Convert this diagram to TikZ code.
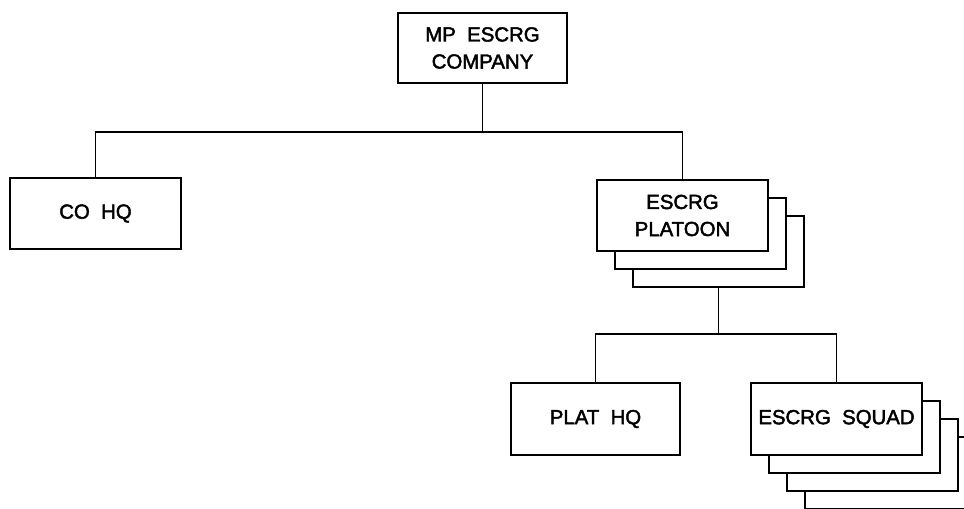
\documentclass[tikz,border=0pt]{standalone}
\usepackage{fontspec}
\setmainfont{Liberation Sans}
\usetikzlibrary{positioning}
\begin{document}
\begin{tikzpicture}[x=0.02cm, y=-0.02cm, line width=1.1pt,
    unit/.style={draw, fill=white, align=center, inner sep=0pt,
                 minimum width=3.42cm, minimum height=1.42cm,
                 font=\fontsize{11.6}{15.4}\selectfont\addfontfeature{FakeBold=2.2}}]
    \useasboundingbox (0,0) rectangle (964,509);
    % top level
    \node[unit, minimum width=3.38cm, minimum height=1.40cm] (company) at (482.5,48)
      {MP~~ESCRG\\COMPANY};
    \node[unit] (cohq) at (95.5,213.5) {CO~~HQ};
    % platoon stack
    \foreach \k in {2,1} {
      \node[unit] (platoonback\k) at (682.5+\k*18,215.5+\k*18) {};
    }
    \node[unit] (platoon) at (682.5,215.5) {ESCRG\\PLATOON};
    % squad level
    \node[unit, minimum width=3.38cm, minimum height=1.44cm] (plathq) at (595.5,419) {PLAT~~HQ};
    \foreach \k in {3,2,1} {
      \node[unit, minimum height=1.44cm] (squadback\k) at (836.5+\k*18,419+\k*18) {};
    }
    \node[unit, minimum height=1.44cm] (squad) at (836.5,419) {ESCRG~~SQUAD};
    % connectors
    \coordinate (busa) at (482.5,132);
    \coordinate (busb) at (718.5,334);
    \draw (company.south) -- (busa);
    \draw (cohq.north) -- (cohq.north |- busa) -- (platoon.north |- busa) -- (platoon.north);
    \draw (platoonback2.south) -- (busb);
    \draw (plathq.north) -- (plathq.north |- busb) -- (squad.north |- busb) -- (squad.north);
\end{tikzpicture}
\end{document}
